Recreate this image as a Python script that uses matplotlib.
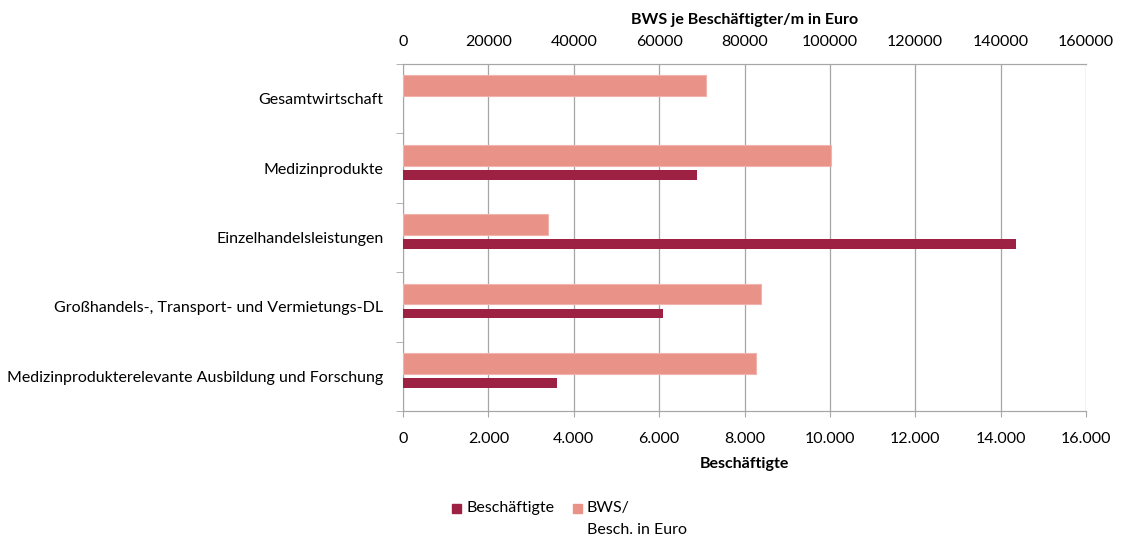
import numpy as np
import matplotlib.pyplot as plt
from matplotlib.patches import Rectangle
from matplotlib.ticker import FuncFormatter

plt.rcParams['font.family'] = ['Lato', 'DejaVu Sans']

kategorien = ['Gesamtwirtschaft', 'Medizinprodukte', 'Einzelhandelsleistungen',
              'Großhandels-, Transport- und Vermietungs-DL',
              'Medizinprodukterelevante Ausbildung und Forschung']
beschaeftigte = [0, 6880, 14360, 6090, 3600]
bws_je_besch = [70900, 100200, 33900, 83800, 82700]

farbe_besch = '#9C2143'
farbe_bws = '#E99388'
grau = '#A6A6A6'
fs = 11.5

fig = plt.figure(figsize=(11.22, 5.4), dpi=100)
ax = fig.add_axes([403 / 1122, 1 - 411 / 540, 683 / 1122, 347 / 540])
ax2 = ax.twiny()

y = np.arange(len(kategorien))

# Beschaeftigte auf der unteren Achse, BWS auf der oberen
ax.barh(y + 0.095, beschaeftigte, height=0.14, color=farbe_besch, zorder=3)
ax2.barh(y - 0.187, bws_je_besch, height=0.30, color=farbe_bws,
         edgecolor='#F2B3AC', linewidth=0.8, zorder=3)

ax.set_xlim(0, 16000)
ax2.set_xlim(0, 160000)
ax.set_ylim(4.5, -0.5)
ax2.set_ylim(4.5, -0.5)

ax.set_xticks(np.arange(0, 16001, 2000))
ax2.set_xticks(np.arange(0, 160001, 20000))
ax.xaxis.set_major_formatter(FuncFormatter(lambda v, p: f'{int(v):,}'.replace(',', '.')))
ax2.xaxis.set_major_formatter(FuncFormatter(lambda v, p: f'{int(v)}'))

ax.set_yticks(y)
ax.set_yticklabels(kategorien, fontsize=fs)
ax.set_yticks(np.arange(-0.5, 4.6, 1), minor=True)
ax.tick_params(axis='y', which='major', length=0, pad=14)
ax.tick_params(axis='y', which='minor', length=5, color=grau)
ax.tick_params(axis='x', length=4, color=grau, labelsize=fs, pad=11)
ax2.tick_params(axis='x', length=0, labelsize=fs, pad=10.5)

ax.grid(axis='x', color=grau, linewidth=0.9, zorder=0)
ax.set_axisbelow(True)

for a in (ax, ax2):
    a.spines['right'].set_visible(False)
    for s in ('top', 'bottom', 'left'):
        a.spines[s].set_color(grau)
ax2.spines['left'].set_visible(False)

ax.set_xlabel('Beschäftigte', fontsize=fs, fontweight='bold', labelpad=8)
ax2.set_xlabel('BWS je Beschäftigter/m in Euro', fontsize=fs, fontweight='bold', labelpad=8)

# Legende unten
fig.patches.append(Rectangle((452 / 1122, 1 - 513 / 540), 9 / 1122, 9 / 540,
                             transform=fig.transFigure, color=farbe_besch))
fig.text(466 / 1122, 1 - 508 / 540, 'Beschäftigte', fontsize=fs, va='center')
fig.patches.append(Rectangle((573 / 1122, 1 - 513 / 540), 9 / 1122, 9 / 540,
                             transform=fig.transFigure, color=farbe_bws))
fig.text(587 / 1122, 1 - 508 / 540, 'BWS/', fontsize=fs, va='center')
fig.text(587 / 1122, 1 - 530 / 540, 'Besch. in Euro', fontsize=fs, va='center')

fig.savefig('out.png', dpi=100)
